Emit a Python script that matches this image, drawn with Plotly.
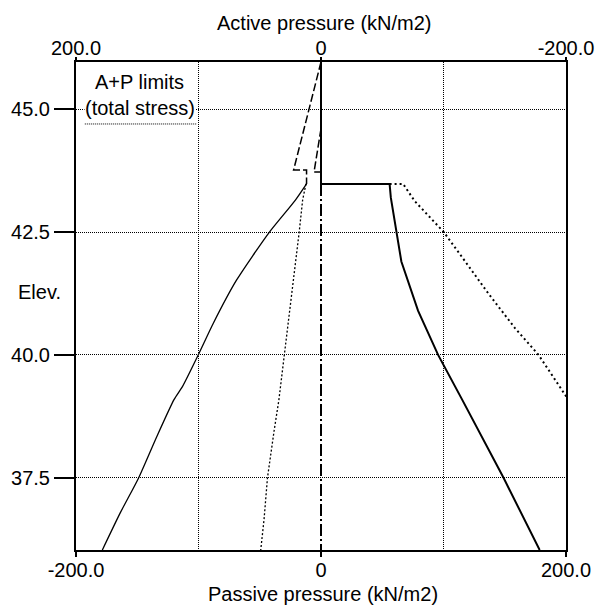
import plotly.graph_objects as go

# ---------------- data ----------------
# Passive side (bottom axis, kN/m2) vs elevation
passive_elev = [43.48, 43.48, 43.2, 42.5, 41.9, 40.9, 40.0, 39.1, 38.2, 37.5, 36.03]
passive_limit = [0, 56, 57, 61.5, 65.6, 79.2, 95.6, 115, 134, 149, 178.5]

passive_total_elev = [43.48, 43.48, 43.13, 42.5, 41.96, 41.25, 40.54, 40.0, 39.13]
passive_total = [56, 67, 76.5, 100.2, 116, 136.6, 158.5, 177.6, 200.8]

# Active side (top axis, kN/m2) vs elevation
active_elev = [43.48, 43.15, 42.49, 41.52, 40.64, 40.01, 39.36, 39.09, 38.34, 37.49, 36.78, 36.03]
active_limit = [11.8, 20.9, 42.4, 69, 88, 100, 113, 120, 134, 149, 164, 178.5]

active_total_elev = [43.48, 43.15, 42.5, 41.12, 40.0, 39.08, 38.47, 37.5, 36.65, 36.03]
active_total = [12.3, 15, 17.8, 24.6, 30, 34.4, 38.2, 43.7, 46.5, 49.2]

active_upper_elev = [45.96, 43.76, 43.76, 43.48]
active_upper = [0, 22.4, 11.8, 11.8]

active_inner_elev = [44.6, 43.72, 43.72]
active_inner = [0, 5.7, 0]

wall_top_elev = [45.96, 43.48]
wall_low_elev = [43.48, 36.03]
wall_x = [0, 0]

x_ticks = [-200, 0, 200]
x_ticktext = ["-200.0", "0", "200.0"]
top_ticks = [200, 0, -200]
top_ticktext = ["200.0", "0", "-200.0"]
y_ticks = [37.5, 40.0, 42.5, 45.0]
y_ticktext = ["37.5", "40.0", "42.5", "45.0"]

FONT = "Liberation Sans, Arial, sans-serif"

fig = go.Figure()

# wall
fig.add_trace(go.Scatter(x=wall_x, y=wall_low_elev, mode="lines",
                         line=dict(color="black", width=2, dash="12px,3px,2px,3px"),
                         hoverinfo="skip", showlegend=False))
fig.add_trace(go.Scatter(x=wall_x, y=wall_top_elev, mode="lines",
                         line=dict(color="black", width=2),
                         hoverinfo="skip", showlegend=False))
# passive
fig.add_trace(go.Scatter(x=passive_limit, y=passive_elev, mode="lines",
                         line=dict(color="black", width=2), showlegend=False))
fig.add_trace(go.Scatter(x=passive_total, y=passive_total_elev, mode="lines",
                         line=dict(color="black", width=2, dash="2px,3px"), showlegend=False))
# active (top axis)
fig.add_trace(go.Scatter(x=active_limit, y=active_elev, mode="lines", xaxis="x2",
                         line=dict(color="black", width=1.3, shape="spline", smoothing=0.6),
                         showlegend=False))
fig.add_trace(go.Scatter(x=active_total, y=active_total_elev, mode="lines", xaxis="x2",
                         line=dict(color="black", width=1.3, dash="2px,2px"), showlegend=False))
fig.add_trace(go.Scatter(x=active_upper, y=active_upper_elev, mode="lines", xaxis="x2",
                         line=dict(color="black", width=1.5, dash="8px,3px"), showlegend=False))
fig.add_trace(go.Scatter(x=active_inner, y=active_inner_elev, mode="lines", xaxis="x2",
                         line=dict(color="black", width=1.5, dash="8px,3px"), showlegend=False))

fig.update_layout(
    width=595, height=610,
    margin=dict(l=76, r=29, t=62, b=60, autoexpand=False),
    paper_bgcolor="white", plot_bgcolor="white",
    font=dict(family=FONT, size=20, color="black"),
    xaxis=dict(range=[-200, 200], tickvals=x_ticks, ticktext=x_ticktext,
               automargin=False, showgrid=False, zeroline=False, showline=True,
               linecolor="black", linewidth=2, mirror=True, ticks="outside",
               ticklen=5, tickwidth=2, tickcolor="black", tickfont=dict(size=20),
               ticklabelstandoff=-4,
               minor=dict(tickvals=[-100, 100], showgrid=True, gridcolor="black",
                          gridwidth=1, griddash="1px,1px", ticks="")),
    xaxis2=dict(range=[200, -200], overlaying="x", side="top", anchor="y",
                automargin=False, tickvals=top_ticks, ticktext=top_ticktext,
                showgrid=False, zeroline=False, showline=True, linecolor="black",
                linewidth=2, ticks="outside", ticklen=3, tickwidth=2,
                tickcolor="black", tickfont=dict(size=20), ticklabelstandoff=-6),
    yaxis=dict(range=[36.03, 45.96], tickvals=y_ticks, ticktext=y_ticktext,
               automargin=False, showgrid=True, gridcolor="black", gridwidth=1,
               griddash="1px,1px", zeroline=False, showline=True, linecolor="black",
               linewidth=2, mirror=True, ticks="outside", ticklen=20, tickwidth=2,
               tickcolor="black", tickfont=dict(size=20)),
    showlegend=False,
)

# legend-like dotted sample under the label
fig.add_shape(type="line", xref="paper", yref="paper", x0=0.018, x1=0.247,
              y0=0.873, y1=0.873, line=dict(color="black", width=1, dash="1px,1px"))

annos = [
    dict(text="A+P limits", x=0.1306, y=0.959, bgcolor=None),
    dict(text="(total stress)", x=0.1306, y=0.906, bgcolor="white"),
    dict(text="Elev.", x=-0.0735, y=0.529, bgcolor=None),
    dict(text="Active pressure (kN/m2)", x=0.508, y=1.08, bgcolor=None),
    dict(text="Passive pressure (kN/m2)", x=0.504, y=-0.09, bgcolor=None),
]
for a in annos:
    kw = dict(text=a["text"], x=a["x"], y=a["y"], xref="paper", yref="paper",
              xanchor="center", yanchor="middle", showarrow=False,
              font=dict(family=FONT, size=20, color="black"), borderpad=0)
    if a["bgcolor"]:
        kw["bgcolor"] = a["bgcolor"]
    fig.add_annotation(**kw)

fig.write_html("out.html")
